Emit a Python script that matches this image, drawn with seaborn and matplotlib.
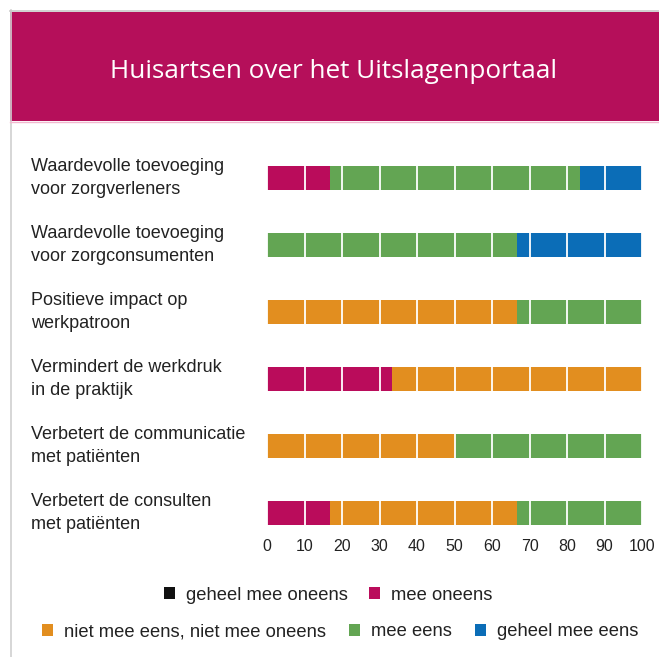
import matplotlib.pyplot as plt
import seaborn as sns
import pandas as pd
from matplotlib.patches import Patch, Rectangle
from matplotlib.lines import Line2D

# data (percentages)
categories = [
    'Waardevolle toevoeging\nvoor zorgverleners',
    'Waardevolle toevoeging\nvoor zorgconsumenten',
    'Positieve impact op\nwerkpatroon',
    'Vermindert de werkdruk\nin de praktijk',
    'Verbetert de communicatie\nmet patiënten',
    'Verbetert de consulten\nmet patiënten',
]
levels = ['geheel mee oneens', 'mee oneens', 'niet mee eens, niet mee oneens',
          'mee eens', 'geheel mee eens']
geheel_mee_oneens = [0, 0, 0, 0, 0, 0]
mee_oneens = [16.7, 0, 0, 33.3, 0, 16.7]
neutraal = [0, 0, 66.7, 66.7, 50, 50]
mee_eens = [66.7, 66.7, 33.3, 0, 50, 33.3]
geheel_mee_eens = [16.6, 33.3, 0, 0, 0, 0]

colors = ['#111111', '#BA0C5B', '#E28E1F', '#63A553', '#0B6DB7']
header_color = '#B50F5A'

df = pd.DataFrame({
    'categorie': categories,
    levels[0]: geheel_mee_oneens,
    levels[1]: mee_oneens,
    levels[2]: neutraal,
    levels[3]: mee_eens,
    levels[4]: geheel_mee_eens,
})
# cumulative sums so the bars can be overlaid from longest to shortest
cum = df[levels].cumsum(axis=1)
cum['categorie'] = df['categorie']

plt.rcParams['font.family'] = ['Liberation Sans', 'DejaVu Sans']
W, H = 659, 657
fig = plt.figure(figsize=(W / 100, H / 100), dpi=100)

# frame + header band
fig.add_artist(Rectangle((10 / W, 1 - 121 / H), 1, 109 / H, transform=fig.transFigure,
                         facecolor=header_color, edgecolor='none', zorder=-1))
fig.add_artist(Line2D([10.5 / W, 10.5 / W], [0, 1 - 10 / H], transform=fig.transFigure,
                      color='#d0d0d0', lw=1.2))
fig.add_artist(Line2D([10 / W, 1], [1 - 10.5 / H, 1 - 10.5 / H], transform=fig.transFigure,
                      color='#c8c8c8', lw=1.2))
fig.add_artist(Line2D([10 / W, 1], [1 - 122 / H, 1 - 122 / H], transform=fig.transFigure,
                      color='#f2b8cf', lw=1))
fig.text(333 / W, 1 - 72 / H, 'Huisartsen over het Uitslagenportaal',
         color='white', fontsize=18.8, ha='center', va='center',
         family=['Open Sans', 'DejaVu Sans'])

ax = fig.add_axes([267 / W, (H - 533) / H, 375 / W, 388.5 / H])
for lvl, c in zip(reversed(levels), reversed(colors)):
    sns.barplot(data=cum, x=lvl, y='categorie', color=c, saturation=1,
                width=0.36, errorbar=None, orient='h', ax=ax)

ax.set_xlim(0, 100)
ax.set_ylim(5.3, -0.5)
ax.set_xticks(range(0, 101, 10))
ax.grid(axis='x', color='white', lw=1.3)
ax.set_axisbelow(False)
for s in ax.spines.values():
    s.set_visible(False)
ax.set_xlabel('')
ax.set_ylabel('')
ax.tick_params(axis='both', length=0, colors='#222222')
ax.tick_params(axis='x', pad=4, labelsize=11.5)
ax.tick_params(axis='y', pad=(267 - 31) * 0.72, labelsize=13)
for t in ax.get_yticklabels():
    t.set_ha('left')
    t.set_va('center')
    t.set_linespacing(1.45)

# legend in two rows
h = [Patch(facecolor=c, edgecolor='none') for c in colors]
leg_kw = dict(frameon=False, fontsize=13.2, handlelength=0.6, handleheight=0.6,
              handletextpad=0.6, borderaxespad=0, borderpad=0, loc='center',
              labelcolor='#222222')
fig.legend(h[:2], levels[:2], ncol=2, columnspacing=1.15,
           bbox_to_anchor=(328.5 / W, 1 - 595 / H), **leg_kw)
fig.legend(h[2:], levels[2:], ncol=3, columnspacing=1.25,
           bbox_to_anchor=(340.5 / W, 1 - 632 / H), **leg_kw)

fig.savefig('out.png', dpi=100)
